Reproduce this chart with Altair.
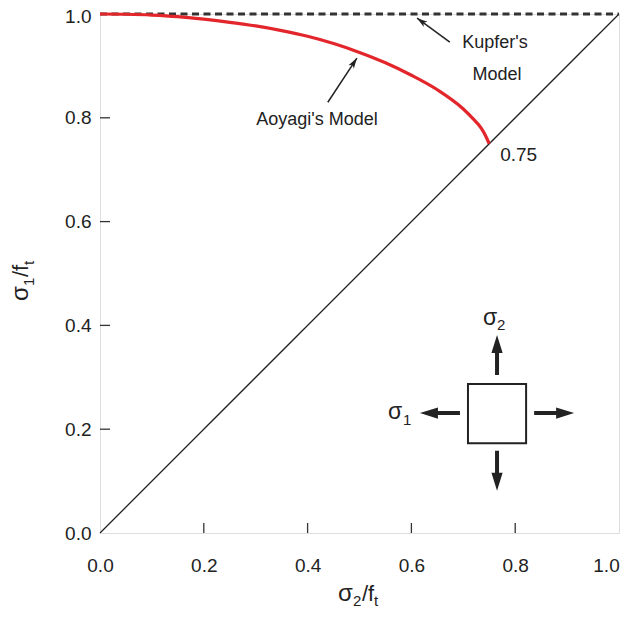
import altair as alt
import pandas as pd

# ---- data ----
aoyagi_x = [0.0, 0.05, 0.10, 0.15, 0.20, 0.25, 0.30, 0.35, 0.40, 0.45, 0.50, 0.55, 0.60, 0.65, 0.70, 0.72, 0.73, 0.74, 0.75]
aoyagi_y = [1.0, 0.9995, 0.998, 0.995, 0.990, 0.984, 0.977, 0.968, 0.957, 0.943, 0.926, 0.906, 0.882, 0.854, 0.817, 0.797, 0.786, 0.771, 0.75]
kupfer_x = [0.0, 1.0]
kupfer_y = [1.0, 1.0]
diag_x = [0.0, 1.0]
diag_y = [0.0, 1.0]
tick_vals = [0.2, 0.4, 0.6, 0.8]
axis_vals = [0.0, 0.2, 0.4, 0.6, 0.8, 1.0]

# inset element (square + four arrows)
square_x = [0.709, 0.821]
square_y = [0.173, 0.287]
arrow_x = [0.765, 0.765, 0.655, 0.875]
arrow_y = [0.343, 0.120, 0.231, 0.231]
arrow_ang = [0, 180, 270, 90]

# annotation arrows (tail -> tip)
ann_tail_x = [0.674, 0.439]
ann_tail_y = [0.946, 0.830]
ann_tip_x = [0.611, 0.495]
ann_tip_y = [0.992, 0.915]
ann_ang = [306, 33]

W = H = 519
RED = "#e3262b"
INK = "#222222"
FONT = "Liberation Sans"

x_scale = alt.Scale(domain=[0, 1], nice=False)
y_scale = alt.Scale(domain=[0, 1], nice=False)

df_curve = pd.DataFrame({"x": aoyagi_x, "y": aoyagi_y})
df_kupfer = pd.DataFrame({"x": kupfer_x, "y": kupfer_y})
df_diag = pd.DataFrame({"x": diag_x, "y": diag_y})
df_ticks = pd.DataFrame({"v": tick_vals})
df_sq = pd.DataFrame({"x": [square_x[0]], "x2": [square_x[1]], "y": [square_y[0]], "y2": [square_y[1]]})
df_arrows = pd.DataFrame({"x": arrow_x, "y": arrow_y, "a": arrow_ang})
df_ann = pd.DataFrame({"x": ann_tail_x, "y": ann_tail_y, "x2": ann_tip_x, "y2": ann_tip_y, "a": ann_ang})

X = alt.X("x:Q", scale=x_scale,
          axis=alt.Axis(values=axis_vals, format=".1f", title=None, grid=False, ticks=False,
                        domain=False, labelFont=FONT, labelFontSize=19, labelColor=INK,
                        labelPadding=23, labelFlush=False,
                        labelOffset={"condition": {"test": "datum.value == 1", "value": -13}, "value": 0}))
Y = alt.Y("y:Q", scale=y_scale,
          axis=alt.Axis(values=axis_vals, format=".1f", title=None, grid=False, ticks=False,
                        domain=False, labelFont=FONT, labelFontSize=19, labelColor=INK,
                        labelPadding=9, labelFlush=False,
                        labelOffset={"condition": {"test": "datum.value == 1", "value": 2}, "value": 0}))

diag = alt.Chart(df_diag).mark_line(color=INK, strokeWidth=1.3).encode(x=X, y=Y)
kupfer = alt.Chart(df_kupfer).mark_line(color="#333333", strokeWidth=3, strokeDash=[7, 4.5]).encode(
    x=alt.X("x:Q", scale=x_scale), y=alt.Y("y:Q", scale=y_scale))
curve = alt.Chart(df_curve).mark_line(color=RED, strokeWidth=3.2, interpolate="monotone").encode(
    x=alt.X("x:Q", scale=x_scale), y=alt.Y("y:Q", scale=y_scale))

xticks = alt.Chart(df_ticks).mark_rule(color="#333333", strokeWidth=1.3).encode(
    x=alt.X("v:Q", scale=x_scale), y=alt.value(H), y2=alt.value(H - 10))
yticks = alt.Chart(df_ticks).mark_rule(color="#333333", strokeWidth=1.3).encode(
    y=alt.Y("v:Q", scale=y_scale), x=alt.value(0), x2=alt.value(10))

square = alt.Chart(df_sq).mark_rect(fill="white", stroke=INK, strokeWidth=2).encode(
    x=alt.X("x:Q", scale=x_scale), x2="x2:Q", y=alt.Y("y:Q", scale=y_scale), y2="y2:Q")

ARROW = "M-0.1,1L0.1,1L0.1,-0.1L0.28,-0.1L0,-1L-0.28,-0.1L-0.1,-0.1Z"
arrows = alt.Chart(df_arrows).mark_point(shape=ARROW, filled=True, color=INK, opacity=1, size=1600).encode(
    x=alt.X("x:Q", scale=x_scale), y=alt.Y("y:Q", scale=y_scale), angle=alt.Angle("a:Q", scale=None))

ann_lines = alt.Chart(df_ann).mark_rule(color=INK, strokeWidth=1.5).encode(
    x=alt.X("x:Q", scale=x_scale), y=alt.Y("y:Q", scale=y_scale), x2="x2:Q", y2="y2:Q")
HEAD = "M0,0L0.45,1.5L0,1.1L-0.45,1.5Z"
ann_heads = alt.Chart(df_ann).mark_point(shape=HEAD, filled=True, color=INK, opacity=1, size=200).encode(
    x=alt.X("x2:Q", scale=x_scale), y=alt.Y("y2:Q", scale=y_scale), angle=alt.Angle("a:Q", scale=None))

df_txt = pd.DataFrame({
    "t": ["Kupfer's", "Model", "Aoyagi's Model"],
    "x": [0.761, 0.765, 0.418],
    "y": [0.944, 0.882, 0.796],
})
labels = alt.Chart(df_txt).mark_text(font=FONT, fontSize=18, color=INK, align="center", baseline="middle").encode(
    x=alt.X("x:Q", scale=x_scale), y=alt.Y("y:Q", scale=y_scale), text="t:N")
lbl075 = alt.Chart(pd.DataFrame({"t": ["0.75"], "x": [0.771], "y": [0.728]})).mark_text(
    font=FONT, fontSize=19, color=INK, align="left", baseline="middle").encode(
    x=alt.X("x:Q", scale=x_scale), y=alt.Y("y:Q", scale=y_scale), text="t:N")

one = pd.DataFrame({"k": [0]})

def txt(s, px, py, size, align="left", angle=0):
    return alt.Chart(one).mark_text(text=s, font=FONT, fontSize=size, color=INK, align=align,
                                    baseline="alphabetic", angle=angle).encode(
        x=alt.value(px), y=alt.value(py))

# x-axis title  σ2/ft
xt = [txt("σ", 238, 587, 24), txt("2", 253, 592, 15), txt("/f", 262, 587, 22), txt("t", 274, 592, 15)]
# y-axis title  σ1/ft (rotated)
yt = [txt("σ", -72, 287, 24, angle=270), txt("1", -66, 272, 15, angle=270),
      txt("/f", -72, 263, 22, angle=270), txt("t", -66, 251, 15, angle=270)]
# inset labels σ2, σ1
it = [txt("σ", 383, 311, 23), txt("2", 397, 316, 15), txt("σ", 288, 405, 23), txt("1", 303, 411, 15)]

chart = alt.layer(diag, kupfer, curve, xticks, yticks, square, arrows, ann_lines, ann_heads,
                  labels, lbl075, *xt, *yt, *it).properties(
    width=W, height=H,
    autosize=alt.AutoSizeParams(type="none"),
    padding={"left": 92, "top": 6, "right": 2, "bottom": 76},
).configure_view(stroke="#333333", strokeWidth=1.5).configure(background="white")

chart.save("out.html", embed_options={"renderer": "svg", "actions": False})
